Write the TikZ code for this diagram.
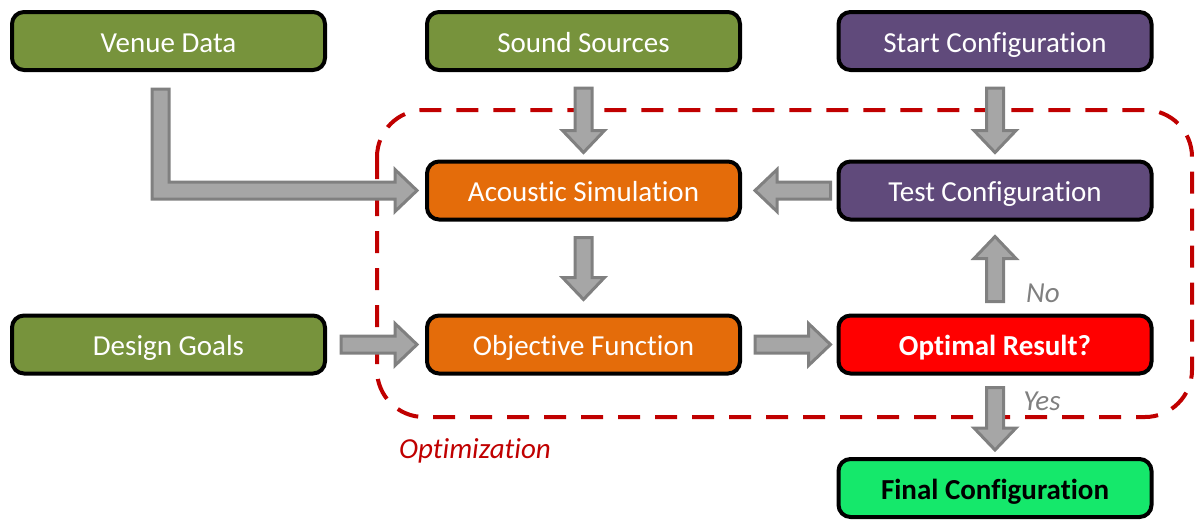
\documentclass[tikz,border=0pt]{standalone}
\usepackage{fontspec}
\setmainfont{Carlito}[Ligatures=NoCommon]
\usetikzlibrary{calc}
\definecolor{vgreen}{HTML}{77933C}
\definecolor{vpurple}{HTML}{604A7B}
\definecolor{vorange}{HTML}{E46C0A}
\definecolor{vred}{HTML}{FF0000}
\definecolor{vbright}{HTML}{15E86B}
\definecolor{darkred}{HTML}{C00000}
\definecolor{arrfill}{HTML}{A6A6A6}
\definecolor{arrline}{HTML}{808080}
\tikzset{
  box/.style={draw=black, line width=4pt, rounded corners=12pt, minimum width=313pt, minimum height=58pt, inner sep=0pt, text height=22pt, text depth=0pt, text=white, font=\fontsize{29}{34}\selectfont},
  barrow/.style={draw=arrline, fill=arrfill, line width=3pt, line join=miter},
  lbl/.style={font=\fontsize{29}{34}\selectfont\itshape, text=arrline},
}
\newcommand\blockarr[2]{%
  \path (#1); \pgfgetlastxy{\xa}{\ya}%
  \path (#2); \pgfgetlastxy{\xb}{\yb}%
  \pgfmathsetmacro\ang{atan2(\yb-\ya,\xb-\xa)}%
  \pgfmathsetmacro\len{veclen(\xb-\xa,\yb-\ya)}%
  \begin{scope}[shift={(\xa,\ya)}, rotate=\ang]
    \draw[barrow] (0,-8.5) -- ({\len/1pt-22},-8.5) -- ({\len/1pt-22},-21) -- ({\len/1pt},0) -- ({\len/1pt-22},21) -- ({\len/1pt-22},8.5) -- (0,8.5) -- cycle;
  \end{scope}}
\begin{document}
\begin{tikzpicture}[x=1pt,y=1pt]
\useasboundingbox (0,0) rectangle (1201,-520);
% dashed optimization region
\draw[darkred, line width=4pt, dash pattern=on 22pt off 15pt, rounded corners=47pt] (377,-110) rectangle (1192,-417);
\node[text=darkred, font=\fontsize{29}{34}\selectfont\itshape] (optlbl) at (475,-451) {Optimization};
% boxes
\node[box, fill=vgreen] (vd) at (168.5,-41) {Venue Data};
\node[box, fill=vgreen] (ss) at (583.5,-41) {Sound Sources};
\node[box, fill=vpurple] (sc) at (995,-41) {Start Configuration};
\node[box, fill=vorange] (as) at (583.5,-190.5) {Acoustic Simulation};
\node[box, fill=vpurple] (tc) at (995,-190.5) {Test Configuration};
\node[box, fill=vgreen] (dg) at (168.5,-344.5) {Design Goals};
\node[box, fill=vorange] (of) at (583.5,-344.5) {Objective Function};
\node[box, fill=vred, font=\fontsize{29}{34}\selectfont\bfseries] (orr) at (995,-344.5) {Optimal Result?};
\node[box, fill=vbright, text=black, font=\fontsize{29}{34}\selectfont\bfseries] (fc) at (995,-488) {Final Configuration};
% labels
\node[lbl] (no) at (1043,-293) {No};
\node[lbl] (yes) at (1042,-401) {Yes};
% connectors
\coordinate (vs) at ($(vd.south)+(-8,-17)$);
\coordinate (ve) at ($(as.west)+(-8,0)$);
\draw[barrow] ($(vs)+(-8.5,0)$) -- ($(vs |- ve)+(-8.5,-8.5)$) -- ($(ve)+(-22,-8.5)$) -- ($(ve)+(-22,-21)$) -- (ve) -- ($(ve)+(-22,21)$) -- ($(ve)+(-22,8.5)$) -- ($(vs |- ve)+(8.5,8.5)$) -- ($(vs)+(8.5,0)$) -- cycle;
\blockarr{$(ss.south)+(0,-16)$}{$(as.north)+(0,7)$}
\blockarr{$(sc.south)+(0,-16)$}{$(tc.north)+(0,7)$}
\blockarr{$(tc.west)+(-6,0)$}{$(as.east)+(13,0)$}
\blockarr{$(as.south)+(0,-16)$}{$(of.north)+(0,14)$}
\blockarr{$(orr.north)+(0,12)$}{$(tc.south)+(0,-15)$}
\blockarr{$(dg.east)+(14,0)$}{$(of.west)+(-8,0)$}
\blockarr{$(of.east)+(13,0)$}{$(orr.west)+(-6,0)$}
\blockarr{$(orr.south)+(0,-12)$}{$(fc.north)+(0,7)$}
\end{tikzpicture}
\end{document}
